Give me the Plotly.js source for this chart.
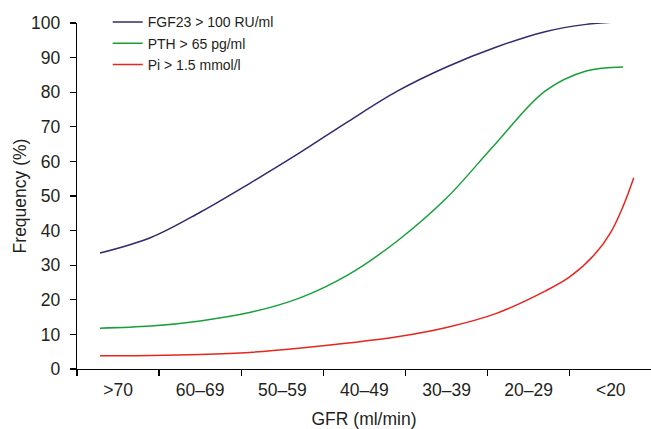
<!DOCTYPE html>
<html>
<head>
<meta charset="utf-8">
<script src="https://cdn.plot.ly/plotly-3.0.1.min.js"></script>
<style>html,body{margin:0;padding:0;background:#fff;}#chart{width:651px;height:429px;}</style>
</head>
<body>
<div id="chart"></div>
<script>
// GFR categories (tick labels at category positions 0..6)
const categories = [">70", "60\u201369", "50\u201359", "40\u201349", "30\u201339", "20\u201329", "<20"];

// Curves (x in category units, y in %)
const fgf23X = [-0.22, 0.4, 1.0, 1.6, 2.2, 2.8, 3.4, 4.0, 4.6, 5.2, 5.7, 6.15];
const fgf23Y = [33.5, 38.0, 45.3, 53.6, 62.3, 71.5, 80.3, 87.3, 93.0, 97.5, 99.6, 100.4];

const pthX = [-0.22, 0.4, 1.0, 1.6, 2.2, 2.8, 3.4, 4.0, 4.6, 5.2, 5.7, 6.15];
const pthY = [11.8, 12.4, 13.9, 16.3, 20.4, 27.2, 37.0, 49.4, 65.2, 80.3, 86.1, 87.3];

const piX = [-0.22, 0.4, 1.0, 1.6, 2.2, 2.8, 3.4, 4.0, 4.6, 5.2, 5.5, 5.8, 6.0, 6.15, 6.28];
const piY = [3.8, 3.9, 4.2, 4.8, 6.0, 7.5, 9.3, 12.0, 16.0, 22.5, 26.6, 33.0, 39.5, 47.0, 55.3];

const seriesNames = ["FGF23 > 100 RU/ml", "PTH > 65 pg/ml", "Pi > 1.5 mmol/l"];
const seriesColors = ["#2f2b6e", "#17a03a", "#e4261f"];

const catPositions = categories.map((c, i) => i);
const boundaries = categories.map((c, i) => i - 0.5);

const xs = [fgf23X, pthX, piX];
const ys = [fgf23Y, pthY, piY];
const traces = xs.map((x, i) => ({
  x: x, y: ys[i], type: "scatter", mode: "lines", name: seriesNames[i],
  line: {color: seriesColors[i], width: 1.5, shape: "spline", smoothing: 1}
}));

const txt = "#231f20";
const layout = {
  width: 651, height: 429,
  margin: {l: 77, r: 0, t: 23, b: 60},
  paper_bgcolor: "#fff", plot_bgcolor: "#fff",
  font: {family: "Liberation Sans, Arial, sans-serif", color: txt, size: 17.5},
  showlegend: true,
  legend: {x: 0.0535, y: 1.048, xanchor: "left", yanchor: "top",
    font: {size: 14, color: txt}, bgcolor: "rgba(0,0,0,0)", tracegroupgap: 0},
  xaxis: {
    range: [-0.5, 6.49], showgrid: false, zeroline: false,
    showline: true, linecolor: "#000", linewidth: 1.3,
    tickmode: "array", tickvals: catPositions, ticktext: categories,
    ticks: "", ticklabelstandoff: 5,
    minor: {tickmode: "array", tickvals: boundaries, ticks: "outside", ticklen: 6, tickcolor: "#000", tickwidth: 1.3},
    title: {text: "GFR (ml/min)", font: {size: 17.5, color: txt}, standoff: 15}
  },
  yaxis: {
    range: [0, 100], showgrid: false, zeroline: false,
    showline: true, linecolor: "#000", linewidth: 1.3,
    tickmode: "array", tickvals: [0,10,20,30,40,50,60,70,80,90,100],
    ticks: "outside", ticklen: 6, tickcolor: "#000", tickwidth: 1.3,
    ticklabelstandoff: 6,
    title: {text: "Frequency (%)", font: {size: 17.5, color: txt}, standoff: 0}
  }
};

Plotly.newPlot("chart", traces, layout, {displayModeBar: false, staticPlot: true});
</script>
</body>
</html>
